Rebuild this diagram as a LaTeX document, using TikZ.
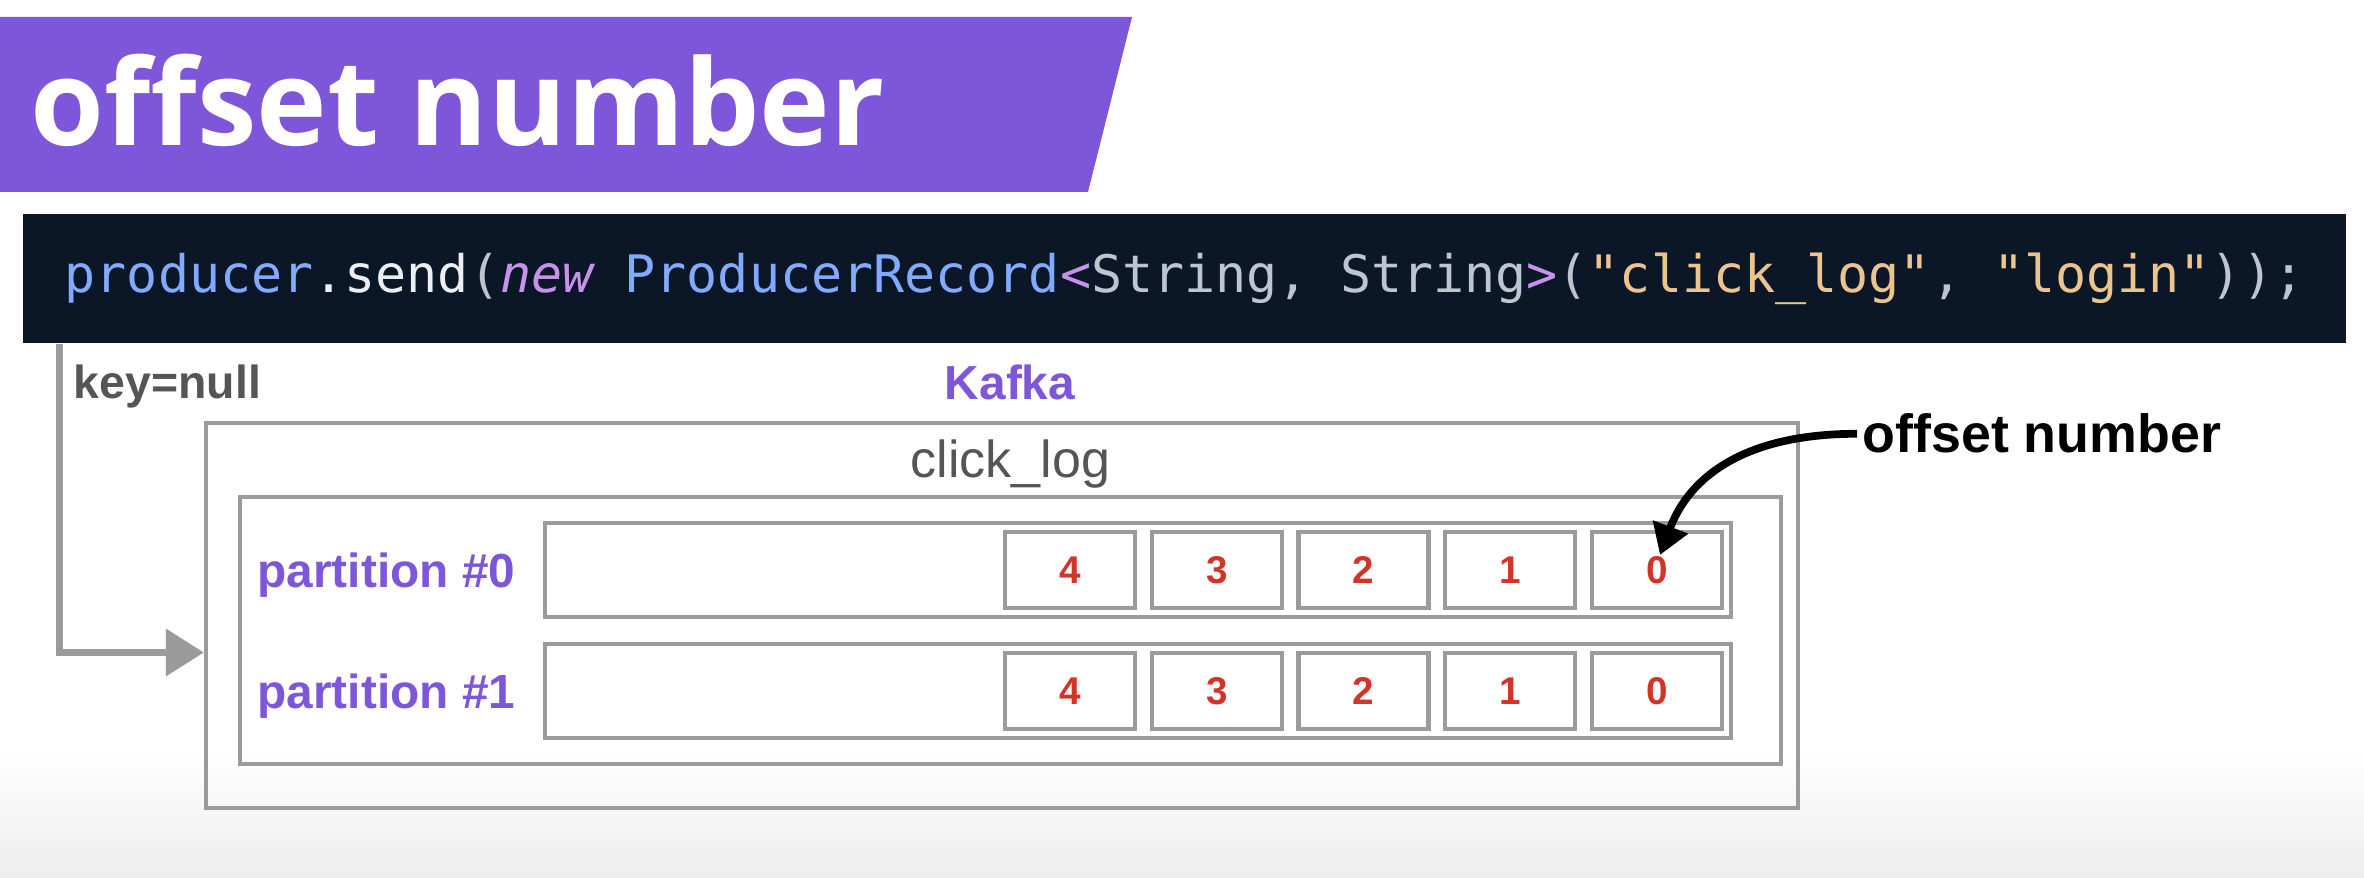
\documentclass[tikz,border=0pt]{standalone}
\usepackage{fontspec}
\setmainfont{Liberation Sans}
\setmonofont{DejaVu Sans Mono}[ItalicFont={DejaVu Sans Mono Oblique}]
\newfontfamily\titlefont{Open Sans}
\usetikzlibrary{arrows.meta, positioning}

\definecolor{kpurple}{RGB}{126,86,217}
\definecolor{boxgray}{RGB}{155,155,155}
\definecolor{codebg}{RGB}{11,22,38}
\definecolor{offred}{RGB}{211,52,40}
\definecolor{txtgray}{RGB}{85,85,85}
\definecolor{cblue}{RGB}{130,170,255}
\definecolor{cpink}{RGB}{199,146,234}
\definecolor{cgray}{RGB}{190,197,208}
\definecolor{cwhite}{RGB}{236,240,244}
\definecolor{cstr}{RGB}{236,196,141}

\begin{document}
\begin{tikzpicture}[
  node distance=0.125cm,
  frame/.style={rectangle, draw=boxgray, line width=1.2pt, inner sep=0},
  cell/.style={frame, minimum width=1.30cm, minimum height=0.76cm, text=offred, font=\bfseries\fontsize{11}{11}\selectfont},
  plabel/.style={inner sep=0, text=kpurple, font=\bfseries\fontsize{13.6}{14}\selectfont},
  glabel/.style={inner sep=0, text=txtgray, font=\fontsize{14.8}{16}\selectfont},
  arr/.style={draw=boxgray, line width=2pt, -{Triangle[length=3.8mm, width=4.6mm]}},
  curly/.style={draw, line width=2.2pt, -{Triangle[length=3mm, width=3.6mm]}}
]
\useasboundingbox (0,0) rectangle (23.64,-8.78);
\shade[top color=white, bottom color=black!7] (0,-7.5) rectangle (23.64,-8.78);
% title banner
\fill[kpurple] (0,-0.17) -- (11.32,-0.17) -- (10.88,-1.92) -- (0,-1.92) -- cycle;
\node[anchor=base west, inner sep=0, text=white, font=\titlefont\bfseries\fontsize{34}{36}\selectfont] (title) at (0.30,-1.46) {offset number};
% code line
\node[fill=codebg, minimum width=23.23cm, minimum height=1.29cm, inner sep=0, font=\ttfamily\fontsize{14.7}{16}\selectfont] (code) at (11.845,-2.785)
  {\textcolor{cblue}{producer}\textcolor{cwhite}{.send}\textcolor{cgray}{(}\textcolor{cpink}{\itshape new} \textcolor{cblue}{ProducerRecord}\textcolor{cpink}{<}\textcolor{cgray}{String, String}\textcolor{cpink}{>}\textcolor{cgray}{(}\textcolor{cstr}{"click\_log"}\textcolor{cgray}{, }\textcolor{cstr}{"login"}\textcolor{cgray}{));}};
\node[inner sep=0, text=txtgray, font=\bfseries\fontsize{13.2}{14}\selectfont, below right=0.2cm and 0.51cm of code.south west] (keylbl) {key=null};
% kafka / topic
\node[frame, minimum width=15.92cm, minimum height=3.85cm] (kafka) at (10.02,-6.155) {};
\node[frame, minimum width=15.41cm, minimum height=2.67cm] (topic) at (10.105,-6.305) {};
\node[plabel, above=0.2cm of kafka, xshift=0.08cm] (kafkalbl) {Kafka};
\node[glabel, above=0.06cm of topic] (topiclbl) {click\_log};
% partitions
\node[frame, minimum width=11.86cm, minimum height=0.94cm] (part0) at (11.38,-5.70) {};
\node[frame, minimum width=11.86cm, minimum height=0.94cm, below=0.23cm of part0] (part1) {};
\node[plabel, left=0.27cm of part0, yshift=-0.05cm] (p0lbl) {partition \#0};
\node[plabel, left=0.27cm of part1, yshift=-0.05cm] (p1lbl) {partition \#1};
\node[cell, left=0.09cm of part0.east] (r0c0) {0};
\node[cell, left=of r0c0] (r0c1) {1};
\node[cell, left=of r0c1] (r0c2) {2};
\node[cell, left=of r0c2] (r0c3) {3};
\node[cell, left=of r0c3] (r0c4) {4};
\node[cell, left=0.09cm of part1.east] (r1c0) {0};
\node[cell, left=of r1c0] (r1c1) {1};
\node[cell, left=of r1c1] (r1c2) {2};
\node[cell, left=of r1c2] (r1c3) {3};
\node[cell, left=of r1c3] (r1c4) {4};
\node[inner sep=0.5mm, font=\bfseries\fontsize{15.3}{16}\selectfont, anchor=base west] (offlbl) at (18.57,-4.53) {offset number};
% connectors
\draw[arr] ([xshift=0.37cm]code.south west) |- ([yshift=-0.37cm]kafka.west);
\draw[curly] (offlbl.west) .. controls +(-1.1,0) and +(0.3,0.8) .. ([xshift=0.03cm, yshift=0.15cm]r0c0.center);
\end{tikzpicture}
\end{document}
